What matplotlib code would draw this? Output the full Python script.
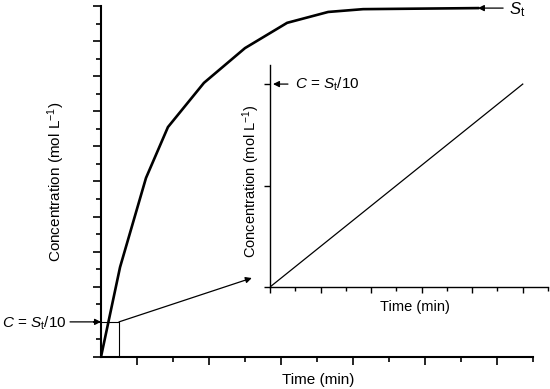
import matplotlib
matplotlib.use("Agg")
import matplotlib.pyplot as plt
import numpy as np

plt.rcParams['font.family'] = ['Liberation Sans', 'DejaVu Sans']
plt.rcParams['mathtext.fontset'] = 'custom'
plt.rcParams['mathtext.rm'] = 'Liberation Sans'
plt.rcParams['mathtext.it'] = 'Liberation Sans:italic'

# main curve: concentration vs time
time_main = [0, 0.53, 1.25, 1.86, 2.86, 4.0, 5.17, 6.31, 7.28, 10.47]
conc_main = [0, 2.56, 5.10, 6.55, 7.81, 8.80, 9.52, 9.83, 9.91, 9.94]
s_t = 9.94
c_level = 1.0     # C = St/10
box_time = 0.5

# inset: linear part
time_inset = [0, 10]
conc_inset = [0, 1.0]

fig = plt.figure(figsize=(5.5, 3.89), dpi=100)
ax = fig.add_axes([0.1836, 0.0823, 0.7855, 0.9023])
ax.set_xlim(0, 12)
ax.set_ylim(0, 10)
for s in ['top', 'right']:
    ax.spines[s].set_visible(False)
for s in ['left', 'bottom']:
    ax.spines[s].set_linewidth(1.5)

ax.plot(time_main, conc_main, color='k', lw=1.9, solid_joinstyle='miter')

ax.set_xticks(np.arange(1, 12, 2))
ax.set_xticks(np.arange(2, 13, 2), minor=True)
ax.set_yticks(np.arange(0, 11, 1))
ax.set_yticks(np.arange(0.5, 10, 1), minor=True)
ax.tick_params(which='major', direction='out', length=6, width=1.2, labelbottom=False, labelleft=False)
ax.tick_params(which='minor', direction='out', length=3.5, width=1.2)

ax.set_xlabel('Time (min)', fontsize=11)
ax.xaxis.set_label_coords(0.502, -0.045)
ax.set_ylabel('Concentration (mol L$^{-1}$)', fontsize=11)
ax.yaxis.set_label_coords(-0.079, 0.5)

# zoom box
ax.plot([0, box_time, box_time], [c_level, c_level, 0], color='k', lw=0.8)
arrow = dict(arrowstyle='-|>', color='k', lw=0.9, mutation_scale=9, shrinkA=0, shrinkB=0)
ax.annotate('', xy=(4.19, 2.25), xytext=(box_time, c_level), arrowprops=arrow)

# labels with arrows
ax.annotate('', xy=(0, c_level), xytext=(-0.86, c_level), arrowprops=arrow, annotation_clip=False)
ax.text(-0.97, c_level - 0.05, '$C$ = $S_{\\mathrm{t}}$/10', fontsize=11, ha='right', va='center')
ax.annotate('', xy=(10.47, s_t), xytext=(11.17, s_t), arrowprops=arrow, annotation_clip=False)
ax.text(11.33, s_t - 0.05, '$S_{\\mathrm{t}}$', fontsize=12, ha='left', va='center')

# inset
ins = fig.add_axes([0.4909, 0.2622, 0.5055, 0.5707])
ins.patch.set_alpha(0)
ins.set_xlim(0, 11)
ins.set_ylim(0, 1.094)
for s in ['top', 'right']:
    ins.spines[s].set_visible(False)
for s in ['left', 'bottom']:
    ins.spines[s].set_linewidth(1.0)
ins.plot(time_inset, conc_inset, color='k', lw=0.9)
ins.set_xticks(np.arange(0, 11, 2))
ins.set_xticks(np.arange(1, 12, 2), minor=True)
ins.set_yticks([0, 0.5, 1.0])
ins.tick_params(which='major', direction='out', length=4, width=1.0, labelbottom=False, labelleft=False)
ins.tick_params(which='minor', direction='out', length=3, width=1.0)
ins.set_xlabel('Time (min)', fontsize=10.5)
ins.xaxis.set_label_coords(0.52, -0.06)
ins.set_ylabel('Concentration (mol L$^{-1}$)', fontsize=10.5)
ins.yaxis.set_label_coords(-0.029, 0.477)
ins.annotate('', xy=(0.12, c_level), xytext=(0.71, c_level), arrowprops=arrow)
ins.text(0.99, c_level, '$C$ = $S_{\\mathrm{t}}$/10', fontsize=11, ha='left', va='center')

fig.savefig('out.png', dpi=100)
